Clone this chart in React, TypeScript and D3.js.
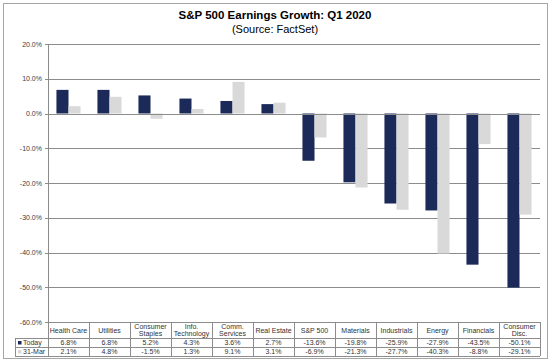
import React, { useEffect, useRef } from 'react';
import * as d3 from 'd3';

const categories = ['Health Care', 'Utilities', 'Consumer Staples', 'Info. Technology', 'Comm. Services', 'Real Estate', 'S&P 500', 'Materials', 'Industrials', 'Energy', 'Financials', 'Consumer Disc.'];
const headerLines = [['Health Care'], ['Utilities'], ['Consumer', 'Staples'], ['Info.', 'Technology'], ['Comm.', 'Services'], ['Real Estate'], ['S&P 500'], ['Materials'], ['Industrials'], ['Energy'], ['Financials'], ['Consumer', 'Disc.']];
const today = [6.8, 6.8, 5.2, 4.3, 3.6, 2.7, -13.6, -19.8, -25.9, -27.9, -43.5, -50.1];
const march31 = [2.1, 4.8, -1.5, 1.3, 9.1, 3.1, -6.9, -21.3, -27.7, -40.3, -8.8, -29.1];
const seriesNames = ['Today', '31-Mar'];
const seriesColors = ['#1b2a59', '#d9d9d9'];
const yTicks = [20, 10, 0, -10, -20, -30, -40, -50, -60];

const W = 550;
const H = 363;

export default function App() {
  const ref = useRef<SVGSVGElement>(null);

  useEffect(() => {
    const svg = d3.select(ref.current);
    svg.selectAll('*').remove();

    const left = 48, right = 540, top = 44, bottom = 322;
    const font = 'Liberation Sans, Arial, sans-serif';

    // outer frame
    svg.append('rect').attr('x', 3.5).attr('y', 3.5).attr('width', 544).attr('height', 355)
      .attr('fill', '#fff').attr('stroke', '#a6a6a6');

    svg.append('text').attr('x', W / 2).attr('y', 19).attr('text-anchor', 'middle')
      .attr('font-family', font).attr('font-weight', 'bold').attr('font-size', 11.5)
      .text('S&P 500 Earnings Growth: Q1 2020');
    svg.append('text').attr('x', W / 2).attr('y', 33).attr('text-anchor', 'middle')
      .attr('font-family', font).attr('font-size', 11)
      .text('(Source: FactSet)');

    const x0 = d3.scaleBand().domain(categories).range([left, right]).padding(0);
    const x1 = d3.scaleBand().domain(seriesNames).range([0, x0.bandwidth()]).paddingInner(0).paddingOuter(0.7);
    const y = d3.scaleLinear().domain([-60, 20]).range([bottom, top]);

    // gridlines
    svg.append('g').selectAll('line').data(yTicks).enter().append('line')
      .attr('x1', left - 3).attr('x2', right)
      .attr('y1', d => Math.round(y(d)) + 0.5).attr('y2', d => Math.round(y(d)) + 0.5)
      .attr('stroke', '#8c8c8c').attr('stroke-width', 1);

    svg.append('g').selectAll('text').data(yTicks).enter().append('text')
      .attr('x', left - 6).attr('y', d => y(d) + 2.5).attr('text-anchor', 'end')
      .attr('font-family', font).attr('font-size', 7).attr('fill', '#404040')
      .text(d => d.toFixed(1) + '%');

    const series = [today, march31];
    series.forEach((vals, si) => {
      svg.append('g').selectAll('rect').data(vals).enter().append('rect')
        .attr('x', (d, i) => (x0(categories[i]) as number) + (x1(seriesNames[si]) as number))
        .attr('width', x1.bandwidth())
        .attr('y', d => y(Math.max(0, d)))
        .attr('height', d => Math.abs(y(d) - y(0)))
        .attr('fill', seriesColors[si]);
    });

    // zero line over bars
    svg.append('line').attr('x1', left).attr('x2', right)
      .attr('y1', Math.round(y(0)) + 0.5).attr('y2', Math.round(y(0)) + 0.5)
      .attr('stroke', '#8c8c8c');

    // left axis
    svg.append('line').attr('x1', left + 0.5).attr('x2', left + 0.5).attr('y1', top).attr('y2', bottom)
      .attr('stroke', '#8c8c8c');

    // data table
    const tLeft = 15, hTop = bottom, hBot = 338, r1 = 347, r2 = 356;
    const g = svg.append('g').attr('font-family', font).attr('font-size', 7).attr('fill', '#333');
    const stroke = '#8c8c8c';
    g.append('line').attr('x1', left).attr('x2', right).attr('y1', hTop + 0.5).attr('y2', hTop + 0.5).attr('stroke', stroke);
    [hBot, r1, r2].forEach(yy => {
      g.append('line').attr('x1', tLeft).attr('x2', right).attr('y1', yy + 0.5).attr('y2', yy + 0.5).attr('stroke', stroke);
    });
    g.append('line').attr('x1', tLeft + 0.5).attr('x2', tLeft + 0.5).attr('y1', hBot).attr('y2', r2).attr('stroke', stroke);
    categories.forEach((c, i) => {
      const xs = x0(c) as number;
      g.append('line').attr('x1', Math.round(xs) + 0.5).attr('x2', Math.round(xs) + 0.5).attr('y1', hTop).attr('y2', r2).attr('stroke', stroke);
    });
    g.append('line').attr('x1', right + 0.5).attr('x2', right + 0.5).attr('y1', hTop).attr('y2', r2).attr('stroke', stroke);

    categories.forEach((c, i) => {
      const cx = (x0(c) as number) + x0.bandwidth() / 2;
      const lines = headerLines[i];
      const midY = (hTop + hBot) / 2;
      lines.forEach((t, li) => {
        g.append('text').attr('x', cx).attr('y', midY + 2.5 + (li - (lines.length - 1) / 2) * 7.5)
          .attr('text-anchor', 'middle').text(t);
      });
      g.append('text').attr('x', cx).attr('y', hBot + 7).attr('text-anchor', 'middle')
        .text(today[i].toFixed(1) + '%');
      g.append('text').attr('x', cx).attr('y', r1 + 7).attr('text-anchor', 'middle')
        .text(march31[i].toFixed(1) + '%');
    });

    seriesNames.forEach((s, si) => {
      const yy = si === 0 ? hBot : r1;
      g.append('rect').attr('x', tLeft + 3).attr('y', yy + 3).attr('width', 3.5).attr('height', 3.5).attr('fill', seriesColors[si]);
      g.append('text').attr('x', tLeft + 8).attr('y', yy + 7).text(s);
    });
  }, []);

  return (
    <svg ref={ref} width={W} height={H} style={{ position: 'absolute', left: 0, top: 0, background: '#fff' }} />
  );
}
